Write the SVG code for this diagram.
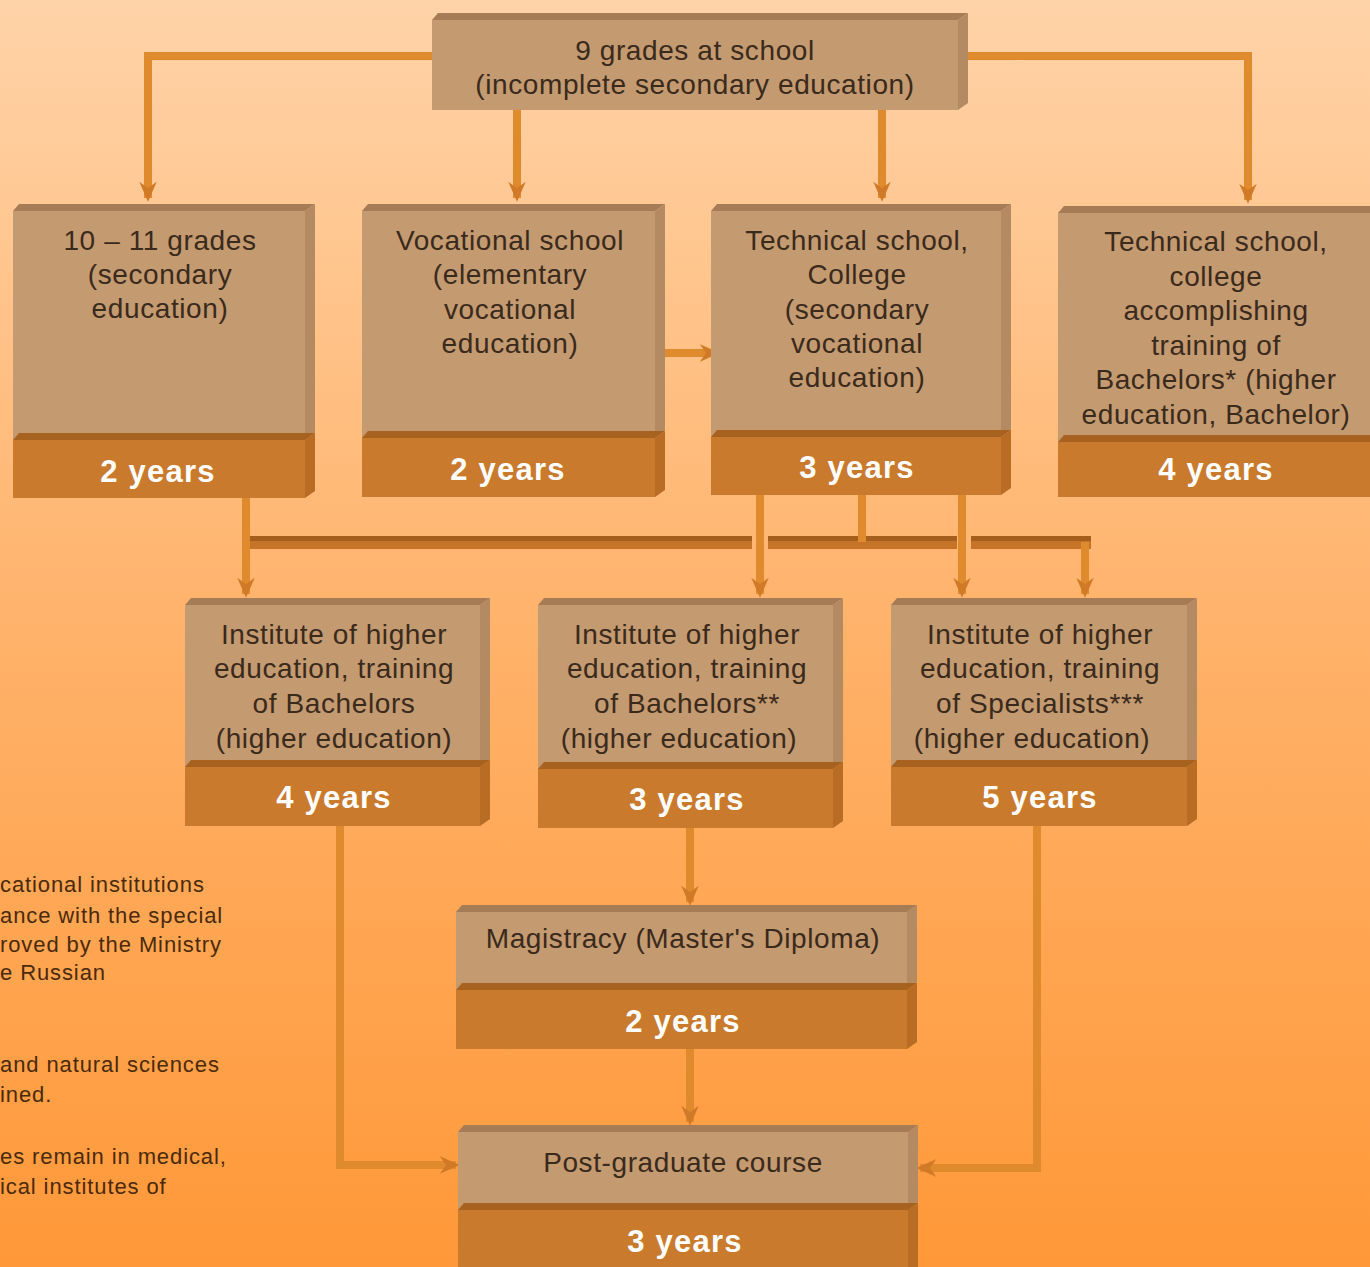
<svg xmlns="http://www.w3.org/2000/svg" width="1370" height="1267" viewBox="0 0 1370 1267">
<defs>
<linearGradient id="bg" x1="0" y1="0" x2="0" y2="1">
<stop offset="0" stop-color="#FFD3A8"/>
<stop offset="0.5" stop-color="#FFB26A"/>
<stop offset="1" stop-color="#FF9838"/>
</linearGradient>
<marker id="ah" viewBox="0 0 16 16" refX="13" refY="8" markerWidth="20" markerHeight="20" markerUnits="userSpaceOnUse" orient="auto">
<path d="M0,1 L16,8 L0,15 L5,8 z" fill="#D07A28"/>
</marker>
<style>
.face{fill:#C49A70}
.ftop{fill:#A67C56}
.fside{fill:#B48A62}
.bar{fill:#C97A2C}
.btop{fill:#A8621F}
.bside{fill:#B86C24}
.t{font-family:"Liberation Sans",Arial,sans-serif;font-size:28px;fill:#3A2A1C;text-anchor:middle;letter-spacing:0.6px}
.y{font-family:"Liberation Sans",Arial,sans-serif;font-size:31px;font-weight:bold;fill:#FFFFFF;text-anchor:middle;letter-spacing:1.2px}
.n{font-family:"Liberation Sans",Arial,sans-serif;font-size:22px;fill:#4A2A0C;letter-spacing:0.9px}
.c{fill:none;stroke:#E08A2E;stroke-width:8}
.bus{fill:#C57428}
.bust{fill:#A65E1C}
</style>
</defs>
<rect width="1370" height="1267" fill="url(#bg)"/>

<g id="notes">
<text class="n" x="0" y="892">cational institutions</text>
<text class="n" x="0" y="923">ance with the special</text>
<text class="n" x="0" y="952">roved by the Ministry</text>
<text class="n" x="0" y="980">e Russian</text>
<text class="n" x="0" y="1072">and natural sciences</text>
<text class="n" x="0" y="1102">ined.</text>
<text class="n" x="0" y="1164">es remain in medical,</text>
<text class="n" x="0" y="1194">ical institutes of</text>
</g>

<g id="connectors">
<path class="c" d="M432,56 H148 V198" marker-end="url(#ah)"/>
<path class="c" d="M968,56 H1248 V200" marker-end="url(#ah)"/>
<path class="c" d="M517,110 V198" marker-end="url(#ah)"/>
<path class="c" d="M882,110 V198" marker-end="url(#ah)"/>
<path class="c" d="M657,353 H716" marker-end="url(#ah)"/>
<rect class="bus" x="246" y="536" width="506" height="13"/>
<rect class="bust" x="246" y="536" width="506" height="5"/>
<rect class="bus" x="768" y="536" width="189" height="13"/>
<rect class="bust" x="768" y="536" width="189" height="5"/>
<rect class="bus" x="971" y="536" width="120" height="13"/>
<rect class="bust" x="971" y="536" width="120" height="5"/>
<path class="c" d="M246,498 V594" marker-end="url(#ah)"/>
<path class="c" d="M760,495 V594" marker-end="url(#ah)"/>
<path class="c" d="M862,495 V542"/>
<path class="c" d="M962,495 V594" marker-end="url(#ah)"/>
<path class="c" d="M1085,542 V594" marker-end="url(#ah)"/>
<path class="c" d="M340,826 V1165 H456" marker-end="url(#ah)"/>
<path class="c" d="M690,828 V902" marker-end="url(#ah)"/>
<path class="c" d="M690,1049 V1122" marker-end="url(#ah)"/>
<path class="c" d="M1037,826 V1168 H920" marker-end="url(#ah)"/>
</g>

<g id="n-top">
<polygon class="ftop" points="432,20 438,13 968,13 958,20"/>
<polygon class="fside" points="958,20 968,13 968,103 958,110"/>
<rect class="face" x="432" y="20" width="526" height="90"/>
<text class="t" x="695" y="60">9 grades at school</text>
<text class="t" x="695" y="94">(incomplete secondary education)</text>
</g>

<g id="n-grades">
<polygon class="ftop" points="13,211 19,204 315,204 305,211"/>
<polygon class="fside" points="305,211 315,204 315,433 305,440"/>
<rect class="face" x="13" y="211" width="292" height="229"/>
<polygon class="btop" points="13,440 19,433 315,433 305,440"/>
<polygon class="bside" points="305,440 315,433 315,491 305,498"/>
<rect class="bar" x="13" y="440" width="292" height="58"/>
<text class="t" x="160" y="250">10 – 11 grades</text>
<text class="t" x="160" y="284">(secondary</text>
<text class="t" x="160" y="318">education)</text>
<text class="y" x="158" y="482">2 years</text>
</g>

<g id="n-vocational">
<polygon class="ftop" points="362,211 368,204 665,204 655,211"/>
<polygon class="fside" points="655,211 665,204 665,431 655,438"/>
<rect class="face" x="362" y="211" width="293" height="227"/>
<polygon class="btop" points="362,438 368,431 665,431 655,438"/>
<polygon class="bside" points="655,438 665,431 665,490 655,497"/>
<rect class="bar" x="362" y="438" width="293" height="59"/>
<text class="t" x="510" y="250">Vocational school</text>
<text class="t" x="510" y="284">(elementary</text>
<text class="t" x="510" y="319">vocational</text>
<text class="t" x="510" y="353">education)</text>
<text class="y" x="508" y="480">2 years</text>
</g>

<g id="n-technical">
<polygon class="ftop" points="711,211 717,204 1011,204 1001,211"/>
<polygon class="fside" points="1001,211 1011,204 1011,430 1001,437"/>
<rect class="face" x="711" y="211" width="290" height="226"/>
<polygon class="btop" points="711,437 717,430 1011,430 1001,437"/>
<polygon class="bside" points="1001,437 1011,430 1011,488 1001,495"/>
<rect class="bar" x="711" y="437" width="290" height="58"/>
<text class="t" x="857" y="250">Technical school,</text>
<text class="t" x="857" y="284">College</text>
<text class="t" x="857" y="319">(secondary</text>
<text class="t" x="857" y="353">vocational</text>
<text class="t" x="857" y="387">education)</text>
<text class="y" x="857" y="478">3 years</text>
</g>

<g id="n-bachelor-college">
<polygon class="ftop" points="1058,213 1064,206 1370,206 1370,213"/>
<rect class="face" x="1058" y="213" width="312" height="229"/>
<polygon class="btop" points="1058,442 1064,435 1370,435 1370,442"/>
<rect class="bar" x="1058" y="442" width="312" height="55"/>
<text class="t" x="1216" y="251">Technical school,</text>
<text class="t" x="1216" y="286">college</text>
<text class="t" x="1216" y="320">accomplishing</text>
<text class="t" x="1216" y="355">training of</text>
<text class="t" x="1216" y="389">Bachelors* (higher</text>
<text class="t" x="1216" y="424">education, Bachelor)</text>
<text class="y" x="1216" y="480">4 years</text>
</g>

<g id="n-inst-bach4">
<polygon class="ftop" points="185,605 191,598 490,598 480,605"/>
<polygon class="fside" points="480,605 490,598 490,760 480,767"/>
<rect class="face" x="185" y="605" width="295" height="162"/>
<polygon class="btop" points="185,767 191,760 490,760 480,767"/>
<polygon class="bside" points="480,767 490,760 490,819 480,826"/>
<rect class="bar" x="185" y="767" width="295" height="59"/>
<text class="t" x="334" y="644">Institute of higher</text>
<text class="t" x="334" y="678">education, training</text>
<text class="t" x="334" y="713">of Bachelors</text>
<text class="t" x="334" y="748">(higher education)</text>
<text class="y" x="334" y="808">4 years</text>
</g>

<g id="n-inst-bach3">
<polygon class="ftop" points="538,605 544,598 843,598 833,605"/>
<polygon class="fside" points="833,605 843,598 843,762 833,769"/>
<rect class="face" x="538" y="605" width="295" height="164"/>
<polygon class="btop" points="538,769 544,762 843,762 833,769"/>
<polygon class="bside" points="833,769 843,762 843,821 833,828"/>
<rect class="bar" x="538" y="769" width="295" height="59"/>
<text class="t" x="687" y="644">Institute of higher</text>
<text class="t" x="687" y="678">education, training</text>
<text class="t" x="687" y="713">of Bachelors**</text>
<text class="t" x="679" y="748">(higher education)</text>
<text class="y" x="687" y="810">3 years</text>
</g>

<g id="n-inst-spec">
<polygon class="ftop" points="891,605 897,598 1197,598 1187,605"/>
<polygon class="fside" points="1187,605 1197,598 1197,760 1187,767"/>
<rect class="face" x="891" y="605" width="296" height="162"/>
<polygon class="btop" points="891,767 897,760 1197,760 1187,767"/>
<polygon class="bside" points="1187,767 1197,760 1197,819 1187,826"/>
<rect class="bar" x="891" y="767" width="296" height="59"/>
<text class="t" x="1040" y="644">Institute of higher</text>
<text class="t" x="1040" y="678">education, training</text>
<text class="t" x="1040" y="713">of Specialists***</text>
<text class="t" x="1032" y="748">(higher education)</text>
<text class="y" x="1040" y="808">5 years</text>
</g>

<g id="n-magistracy">
<polygon class="ftop" points="456,912 462,905 917,905 907,912"/>
<polygon class="fside" points="907,912 917,905 917,983 907,990"/>
<rect class="face" x="456" y="912" width="451" height="78"/>
<polygon class="btop" points="456,990 462,983 917,983 907,990"/>
<polygon class="bside" points="907,990 917,983 917,1042 907,1049"/>
<rect class="bar" x="456" y="990" width="451" height="59"/>
<text class="t" x="683" y="948">Magistracy (Master's Diploma)</text>
<text class="y" x="683" y="1032">2 years</text>
</g>

<g id="n-postgrad">
<polygon class="ftop" points="458,1132 464,1125 918,1125 908,1132"/>
<polygon class="fside" points="908,1132 918,1125 918,1203 908,1210"/>
<rect class="face" x="458" y="1132" width="450" height="78"/>
<polygon class="btop" points="458,1210 464,1203 918,1203 908,1210"/>
<polygon class="bside" points="908,1210 918,1203 918,1267 908,1267"/>
<rect class="bar" x="458" y="1210" width="450" height="57"/>
<text class="t" x="683" y="1172">Post-graduate course</text>
<text class="y" x="685" y="1252">3 years</text>
</g>
</svg>
